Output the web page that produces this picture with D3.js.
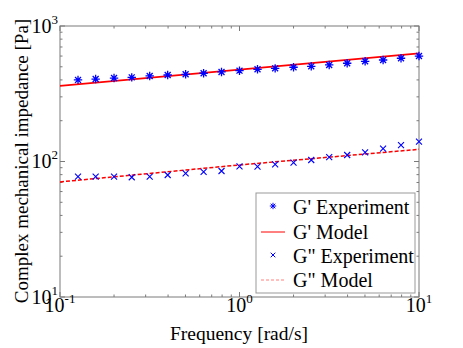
<!DOCTYPE html>
<html><head><meta charset="utf-8">
<script src="https://cdn.jsdelivr.net/npm/d3@7"></script>
<style>body{margin:0;background:#fff}svg{display:block}text{font-family:"Liberation Serif","Times New Roman",serif}</style>
</head><body><div id="c"></div>
<script>
const freq = [0.126,0.158,0.2,0.251,0.316,0.398,0.501,0.631,0.794,1,1.26,1.58,2,2.51,3.16,3.98,5.01,6.31,7.94,10];
const gPrimeExp = [400,406,413,418,428,435,440,448,458,468,479,487,496,504,516,531,549,561,578,600];
const gDoubleExp = [77.2,77.2,77.2,76.5,77.2,79.5,81.8,83.7,85.1,92,91.5,95.3,98,102.6,107.9,111.7,116.9,124.3,132.3,140];
const modelFreq = [0.1,1,10];
const gPrimeModel = [362,477,627];
const gDoubleModel = [70.7,94.3,123];
const xTickVals = [0.1,1,10];
const xTickExp = ["-1","0","1"];
const yTickVals = [10,100,1000];
const yTickExp = ["1","2","3"];
const legendLabels = ["G' Experiment","G' Model","G\" Experiment","G\" Model"];

const W=463,H=348;
const svg=d3.select("#c").append("svg").attr("width",W).attr("height",H);
const x=d3.scaleLog().domain([0.1,10]).range([60,419]);
const y=d3.scaleLog().domain([10,1000]).range([297,26]);
const axisCol="#7a7a7a";

const minorX=[],minorY=[];
[0.1,1].forEach(b=>{for(let k=2;k<=9;k++)minorX.push(b*k);});
[10,100].forEach(b=>{for(let k=2;k<=9;k++)minorY.push(b*k);});
const g=svg.append("g");
function ticksX(vals,len){
  vals.forEach(v=>{
    g.append("line").attr("x1",x(v)).attr("x2",x(v)).attr("y1",297).attr("y2",297-len).attr("stroke",axisCol);
    g.append("line").attr("x1",x(v)).attr("x2",x(v)).attr("y1",26).attr("y2",26+len).attr("stroke",axisCol);
  });
}
function ticksY(vals,len){
  vals.forEach(v=>{
    g.append("line").attr("y1",y(v)).attr("y2",y(v)).attr("x1",60).attr("x2",60+len).attr("stroke",axisCol);
    g.append("line").attr("y1",y(v)).attr("y2",y(v)).attr("x1",419).attr("x2",419-len).attr("stroke",axisCol);
  });
}
ticksX(minorX,2.5);ticksY(minorY,2.5);
ticksX(xTickVals,5);ticksY(yTickVals,5);
g.append("rect").attr("x",60).attr("y",26).attr("width",359).attr("height",271).attr("fill","none").attr("stroke",axisCol);

xTickVals.forEach((v,i)=>{
  const t=svg.append("text").attr("x",x(v)).attr("y",312).attr("text-anchor","middle").attr("font-size",20);
  t.append("tspan").text("10");
  t.append("tspan").attr("dy",-9).attr("font-size",13).text(xTickExp[i]);
});
yTickVals.forEach((v,i)=>{
  const t=svg.append("text").attr("x",58).attr("y",y(v)+6.5).attr("text-anchor","end").attr("font-size",20);
  t.append("tspan").text("10");
  t.append("tspan").attr("dy",-9).attr("font-size",13).text(yTickExp[i]);
});
svg.append("text").attr("x",239).attr("y",340).attr("text-anchor","middle").attr("font-size",19.5).text("Frequency [rad/s]");
svg.append("text").attr("transform","translate(28,161) rotate(-90)").attr("text-anchor","middle").attr("font-size",19).text("Complex mechanical impedance [Pa]");

svg.append("clipPath").attr("id","cp").append("rect").attr("x",60).attr("y",26).attr("width",359).attr("height",271);
const p=svg.append("g").attr("clip-path","url(#cp)");
const line=d3.line().x(d=>x(d[0])).y(d=>y(d[1]));
p.append("path").attr("d",line(modelFreq.map((f,i)=>[f,gPrimeModel[i]]))).attr("fill","none").attr("stroke","#ff0000").attr("stroke-width",1.8);
p.append("path").attr("d",line(modelFreq.map((f,i)=>[f,gDoubleModel[i]]))).attr("fill","none").attr("stroke","#ff0000").attr("stroke-width",1.5).attr("stroke-dasharray","4,2");

function star(sel,cx,cy,r,w){
  const d=r*0.71;
  sel.append("path").attr("d",`M${cx-r},${cy}L${cx+r},${cy}M${cx},${cy-r}L${cx},${cy+r}M${cx-d},${cy-d}L${cx+d},${cy+d}M${cx-d},${cy+d}L${cx+d},${cy-d}`)
    .attr("stroke","#0000ff").attr("stroke-width",w).attr("fill","none");
}
function cross(sel,cx,cy,r,w){
  sel.append("path").attr("d",`M${cx-r},${cy-r}L${cx+r},${cy+r}M${cx-r},${cy+r}L${cx+r},${cy-r}`)
    .attr("stroke","#0000ff").attr("stroke-width",w).attr("fill","none");
}
const mk=svg.append("g");
freq.forEach((f,i)=>star(mk,x(f),y(gPrimeExp[i]),4.2,1.3));
freq.forEach((f,i)=>cross(mk,x(f),y(gDoubleExp[i]),3,1.1));

const lg=svg.append("g");
lg.append("rect").attr("x",256).attr("y",193).attr("width",159).attr("height",100).attr("fill","#fff").attr("stroke","#999");
const ly=[207,232,256,280];
legendLabels.forEach((s,i)=>{
  lg.append("text").attr("x",293).attr("y",ly[i]+6.5).attr("font-size",20).text(s);
});
star(lg,273,ly[0]-1,3.2,1);
lg.append("line").attr("x1",261).attr("x2",285).attr("y1",ly[1]).attr("y2",ly[1]).attr("stroke","#ff0000").attr("stroke-width",1);
cross(lg,273,ly[2]-1,2.3,1);
lg.append("line").attr("x1",261).attr("x2",285).attr("y1",ly[3]).attr("y2",ly[3]).attr("stroke","#ff8080").attr("stroke-width",1).attr("stroke-dasharray","3,2");
</script></body></html>
